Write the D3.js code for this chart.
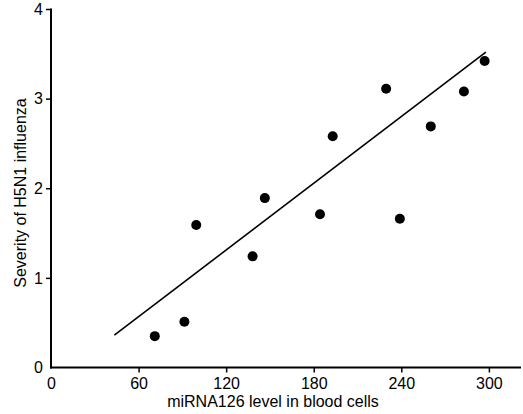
<!DOCTYPE html>
<html><head><meta charset="utf-8">
<script src="https://cdn.jsdelivr.net/npm/d3@7"></script>
<style>body{margin:0;background:#fff}svg{display:block}text{font-family:"Liberation Sans",Arial,sans-serif;fill:#000}</style>
</head><body>
<svg id="c" width="523" height="414"></svg>
<script>
const xValues = [71.1, 91.4, 99.5, 138.1, 146.5, 184.3, 193.0, 229.6, 239.0, 260.2, 282.9, 297.1];
const yValues = [0.35, 0.51, 1.59, 1.24, 1.89, 1.71, 2.58, 3.11, 1.66, 2.69, 3.08, 3.42];
const fitX = [43.4, 297.9];
const fitY = [0.36, 3.52];
const xTicks = [0, 60, 120, 180, 240, 300];
const yTicks = [0, 1, 2, 3, 4];
const xTitle = "miRNA126 level in blood cells";
const yTitle = "Severity of H5N1 influenza";

const svg = d3.select("#c");
const x = d3.scaleLinear().domain([0, 322]).range([51, 521]);
const y = d3.scaleLinear().domain([0, 4]).range([367.5, 9]);
const fmt = d3.format("d");

// axes
const xa = svg.append("g").attr("transform", `translate(0,${y(0)})`)
  .call(d3.axisBottom(x).tickValues(xTicks).tickFormat(fmt).tickSize(5).tickPadding(5).tickSizeOuter(0));
const ya = svg.append("g").attr("transform", `translate(${x(0)},0)`)
  .call(d3.axisLeft(y).tickValues(yTicks).tickFormat(fmt).tickSize(5).tickPadding(3).tickSizeOuter(0));
[xa, ya].forEach(a => {
  a.select(".domain").attr("stroke", "#000").attr("stroke-width", 2);
  a.selectAll(".tick line").attr("stroke", "#000").attr("stroke-width", 1.5);
  a.selectAll(".tick text").attr("font-size", 16).attr("font-family", "Liberation Sans, Arial, sans-serif").attr("fill", "#000");
});
xa.selectAll(".tick").filter(d => d === 0).select("line").remove();
ya.selectAll(".tick").filter(d => d === 0).select("line").remove();
// extend axes to corner
xa.select(".domain").attr("d", `M${x(0)-1},0H521`);
ya.select(".domain").attr("d", `M0,${y(4)-0.5}V${y(0)+1}`);

// fit line
svg.append("line")
  .attr("x1", x(fitX[0])).attr("y1", y(fitY[0]))
  .attr("x2", x(fitX[1])).attr("y2", y(fitY[1]))
  .attr("stroke", "#000").attr("stroke-width", 1.6);

// points
svg.append("g").selectAll("circle").data(xValues).join("circle")
  .attr("cx", d => x(d)).attr("cy", (d, i) => y(yValues[i])).attr("r", 5).attr("fill", "#000");

// titles
svg.append("text").attr("x", 273).attr("y", 407).attr("text-anchor", "middle")
  .attr("font-size", 16).text(xTitle);
svg.append("text").attr("transform", "translate(26,193) rotate(-90)").attr("text-anchor", "middle")
  .attr("font-size", 16).text(yTitle);
</script>
</body></html>
